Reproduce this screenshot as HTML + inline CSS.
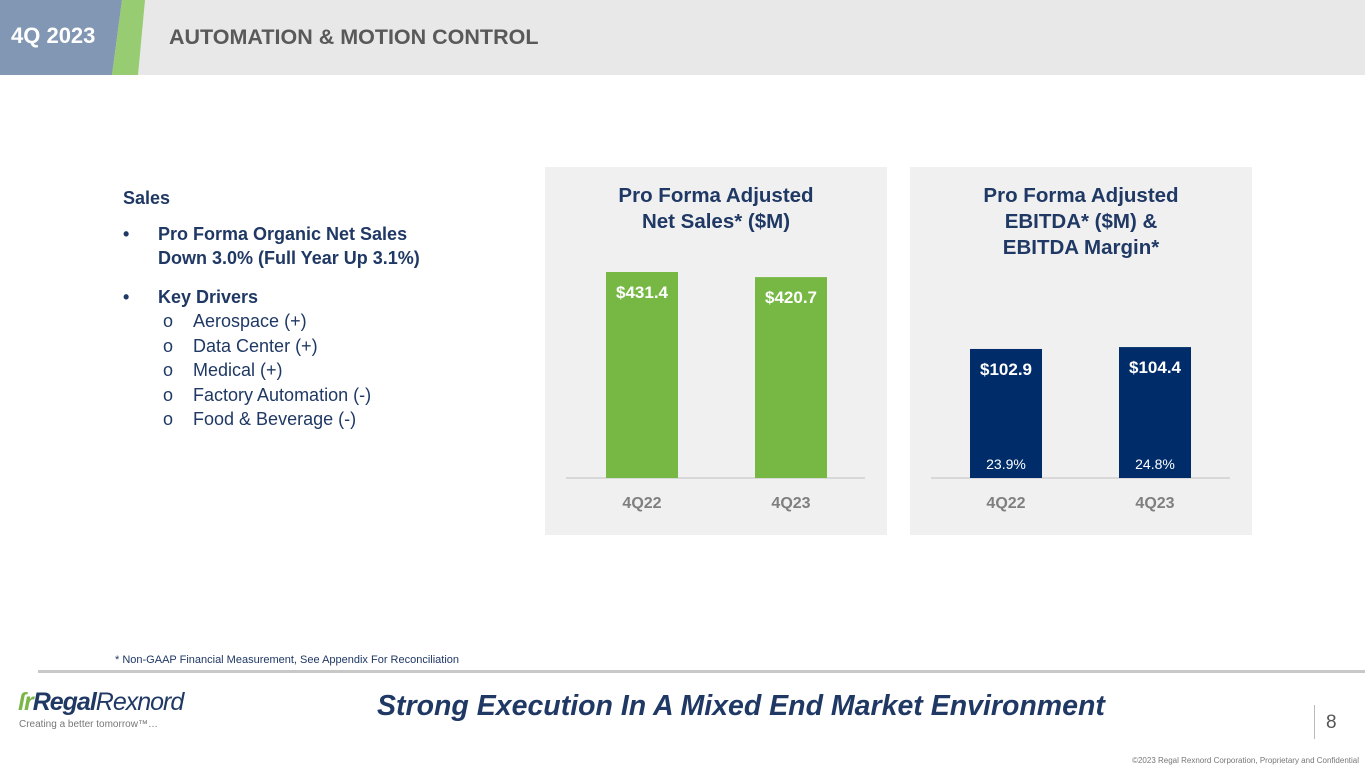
<!DOCTYPE html>
<html><head><meta charset="utf-8"><style>
body{margin:0;width:1365px;height:768px;position:relative;background:#fff;font-family:"Liberation Sans",sans-serif;overflow:hidden}
.a{position:absolute}
.navy{color:#1f3864}
</style></head><body>
<div class="a" style="left:0;top:0;width:1365px;height:75px;background:#e8e8e8"></div>
<svg class="a" style="left:0;top:0" width="160" height="75">
<polygon points="0,0 122,0 112,75 0,75" fill="#8197b3"/>
<polygon points="122,0 145,0 138,75 112,75" fill="#97cc72"/>
</svg>
<div class="a" style="left:11px;top:23px;font-size:22px;font-weight:bold;color:#fff">4Q 2023</div>
<div class="a" style="left:169px;top:25px;font-size:21.5px;font-weight:bold;color:#595959">AUTOMATION &amp; MOTION CONTROL</div>

<div class="a navy" style="left:123px;top:186px;font-size:18px;line-height:24.5px">
<div style="font-weight:bold">Sales</div>
<div style="font-weight:bold;margin-top:11px;position:relative;padding-left:35px"><span style="position:absolute;left:0">•</span>Pro Forma Organic Net Sales<br>Down 3.0% (Full Year Up 3.1%)</div>
<div style="font-weight:bold;margin-top:14px;position:relative;padding-left:35px"><span style="position:absolute;left:0">•</span>Key Drivers</div>
<div style="padding-left:40px">
<div>o&nbsp;&nbsp;&nbsp;&nbsp;Aerospace (+)</div><div>o&nbsp;&nbsp;&nbsp;&nbsp;Data Center (+)</div><div>o&nbsp;&nbsp;&nbsp;&nbsp;Medical (+)</div><div>o&nbsp;&nbsp;&nbsp;&nbsp;Factory Automation (-)</div><div>o&nbsp;&nbsp;&nbsp;&nbsp;Food &amp; Beverage (-)</div></div>
</div>

<svg class="a" style="left:0;top:0" width="1365" height="768" id="charts"></svg>

<div class="a" style="left:115px;top:654px;font-size:11px;color:#1f3864">* Non-GAAP Financial Measurement, See Appendix For Reconciliation</div>
<div class="a" style="left:38px;top:670px;width:1327px;height:3px;background:#c8c8c8"></div>
<div class="a" style="left:18px;top:688px;font-size:25px;font-style:italic;color:#1f3864;letter-spacing:-1px"><span style="color:#7ab648;font-weight:bold">ſr</span><b>Regal</b>Rexnord</div>
<div class="a" style="left:19px;top:719px;font-size:10px;color:#777">Creating a better tomorrow™…</div>
<div class="a" style="left:377px;top:690px;font-size:28.5px;font-weight:bold;font-style:italic;color:#1f3864">Strong Execution In A Mixed End Market Environment</div>
<div class="a" style="left:1314px;top:705px;width:1px;height:34px;background:#bbb"></div>
<div class="a" style="left:1326px;top:712px;font-size:19px;color:#555">8</div>
<div class="a" style="right:6px;top:756px;font-size:8px;color:#777">©2023 Regal Rexnord Corporation, Proprietary and Confidential</div>

<script>
const categories=["4Q22","4Q23"];
const salesValues=[431.4,420.7];
const ebitdaValues=[102.9,104.4];
const marginLabels=["23.9%","24.8%"];
const NS="http://www.w3.org/2000/svg";
const svg=document.getElementById('charts');
function mk(t,a,p){const e=document.createElementNS(NS,t);for(const k in a)e.setAttribute(k,a[k]);(p||svg).appendChild(e);return e;}
function txt(x,y,s,st){const e=mk('text',{x:x,y:y,'text-anchor':'middle','font-family':'Liberation Sans, sans-serif'});e.setAttribute('style',st);e.textContent=s;return e;}
function chart(px,titleLines,vals,scale,color,xs,margins,nm){
  const bg=mk('rect',{x:px,y:167,width:342,height:368,fill:'#f0f0f0'});
  
  
  titleLines.forEach((l,i)=>{const t=txt(px+171,202+i*26,l,'font-size:20.5px;font-weight:bold;fill:#1f3864');
    
    });
  const base=478;
  const ax=mk('line',{x1:px+21,x2:px+320,y1:base,y2:base,stroke:'#d0d0d0','stroke-width':1.5});
  
  
  vals.forEach((v,i)=>{
    const h=v*scale, x=px+xs[i];
    const r=mk('rect',{x:x,y:base-h,width:72,height:h,fill:color});
    
    
    const l=txt(x+36,base-h+26,'$'+v.toFixed(1),'font-size:17px;font-weight:bold;fill:#fff');
    
    
    if(margins){const m=txt(x+36,469,margins[i],'font-size:14px;fill:#fff');
      
      }
    const c=txt(x+36,508,categories[i],'font-size:16px;font-weight:bold;fill:#7f7f7f');
    
    
  });
}
chart(545,["Pro Forma Adjusted","Net Sales* ($M)"],salesValues,0.4775,'#76b843',[61,210],null,'sales');
chart(910,["Pro Forma Adjusted","EBITDA* ($M) &","EBITDA Margin*"],ebitdaValues,1.254,'#002d6a',[60,209],marginLabels,'ebitda');
</script>
</body></html>
